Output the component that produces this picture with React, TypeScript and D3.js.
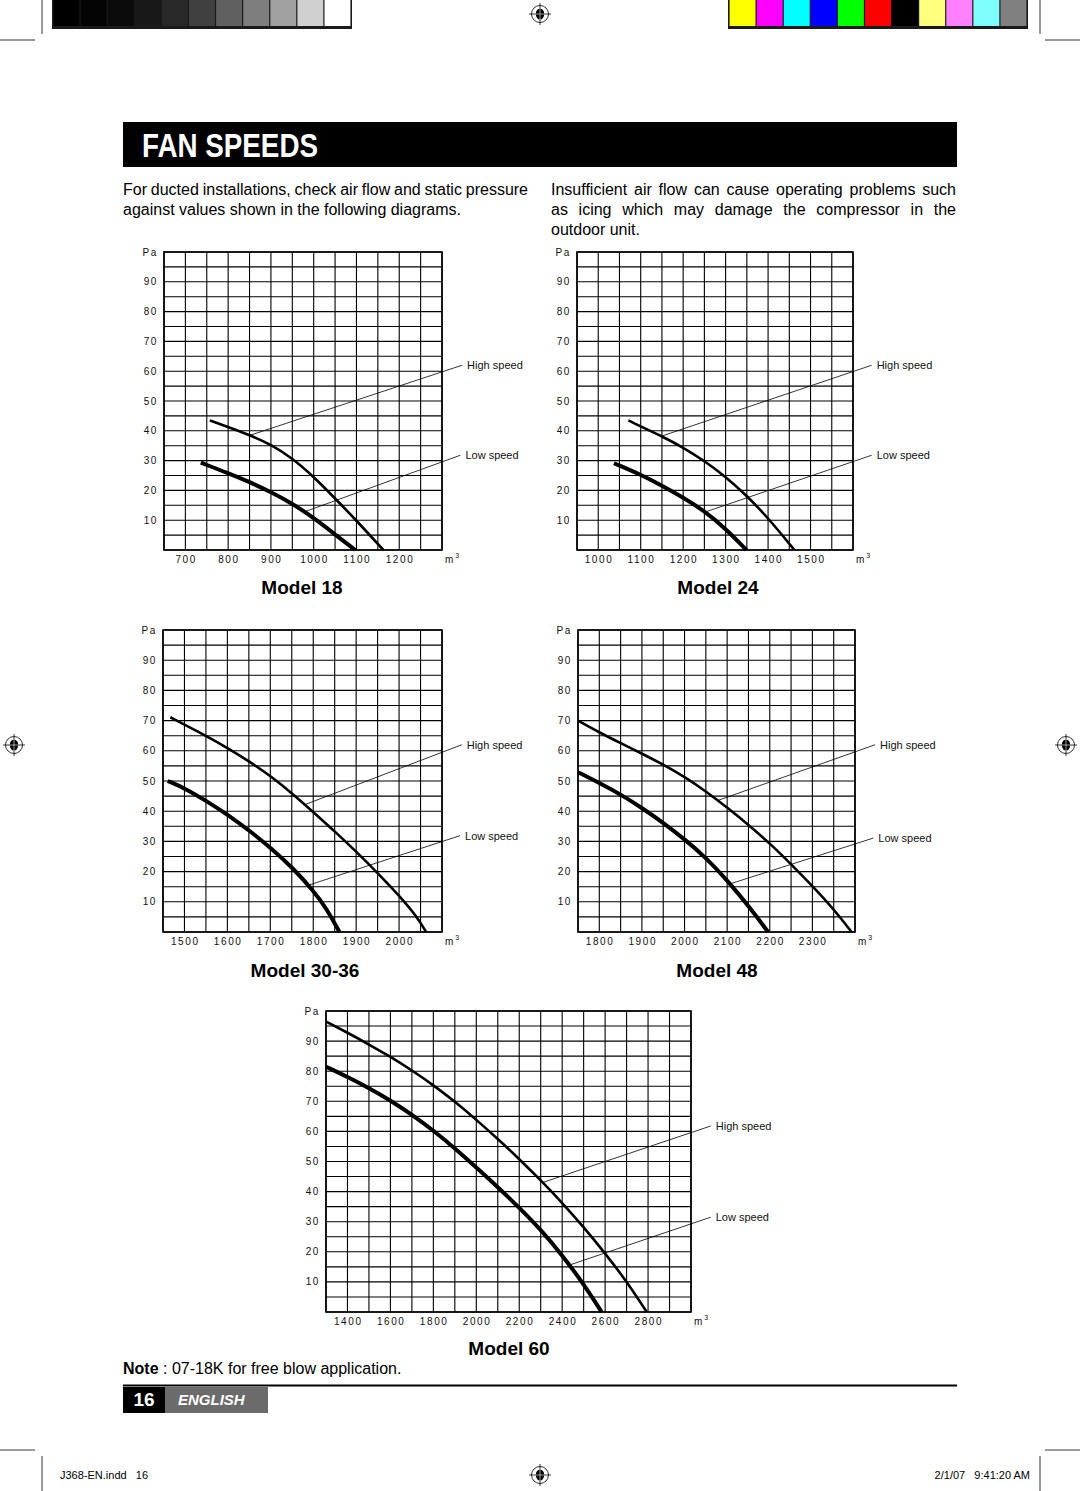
import React, { useLayoutEffect, useRef, useState } from "react";
import * as d3 from "d3";

// ---------- DATA ----------
const yTicks = [10, 20, 30, 40, 50, 60, 70, 80, 90];

const m18Domain = [650, 1300];
const m18Ticks = [700, 800, 900, 1000, 1100, 1200];
const m18High: [number, number][] = [[757, 43.5], [800, 41.3], [850, 38.6], [900, 35.4], [950, 30.8], [1000, 24.6], [1050, 17.3], [1100, 9.9], [1163, 0]];
const m18Low: [number, number][] = [[736, 29.3], [800, 25.8], [850, 22.8], [900, 19.5], [950, 15.6], [1000, 10.8], [1050, 5.2], [1097, 0]];
const m18LeaderHigh: [number, number][] = [[849, 38.4], [1347, 62]];
const m18LeaderLow: [number, number][] = [[980, 12.9], [1343, 31.8]];

const m24Domain = [950, 1600];
const m24Ticks = [1000, 1100, 1200, 1300, 1400, 1500];
const m24High: [number, number][] = [[1071, 43.5], [1100, 41.4], [1150, 38.2], [1200, 34.4], [1250, 29.9], [1300, 24.6], [1350, 18.2], [1400, 10.8], [1462, 0]];
const m24Low: [number, number][] = [[1037, 29.1], [1100, 25.3], [1150, 21.6], [1200, 17.6], [1250, 13.1], [1300, 7.2], [1349, 0]];
const m24LeaderHigh: [number, number][] = [[1149, 38.2], [1644, 62]];
const m24LeaderLow: [number, number][] = [[1253, 12.8], [1644, 31.8]];

const m3036Domain = [1450, 2100];
const m3036Ticks = [1500, 1600, 1700, 1800, 1900, 2000];
const m3036High: [number, number][] = [[1467, 71.1], [1551, 64.9], [1601, 60.9], [1651, 56.5], [1701, 51.6], [1751, 45.9], [1801, 39.6], [1851, 33.2], [1901, 26.5], [1951, 19.4], [2001, 11.9], [2041, 5.2], [2063, 0]];
const m3036Low: [number, number][] = [[1461, 50], [1501, 47.6], [1551, 43.4], [1601, 38.8], [1651, 33.6], [1701, 27.9], [1751, 21.4], [1801, 13.6], [1831, 7.8], [1861, 0]];
const m3036LeaderHigh: [number, number][] = [[1781, 42.2], [2146, 62]];
const m3036LeaderLow: [number, number][] = [[1789, 15.5], [2142, 31.9]];

const m48Domain = [1750, 2400];
const m48Ticks = [1800, 1900, 2000, 2100, 2200, 2300];
const m48High: [number, number][] = [[1750, 70], [1801, 66], [1852, 62.4], [1901, 59], [1952, 55.3], [2002, 51.2], [2051, 46.5], [2102, 41], [2152, 35.3], [2202, 29.1], [2251, 22.3], [2301, 15.1], [2351, 7.4], [2392, 0]];
const m48Low: [number, number][] = [[1750, 52.9], [1801, 49.3], [1852, 45.4], [1901, 41], [1952, 36], [2002, 30.5], [2051, 24.5], [2102, 16.8], [2152, 8.3], [2196, 0]];
const m48LeaderHigh: [number, number][] = [[2079, 43.6], [2447, 62]];
const m48LeaderLow: [number, number][] = [[2106, 15.9], [2443, 31.1]];

const m60Domain = [1300, 3000];
const m60Ticks = [1400, 1600, 1800, 2000, 2200, 2400, 2600, 2800];
const m60High: [number, number][] = [[1300, 96.5], [1400, 92.8], [1500, 88.9], [1600, 84.8], [1700, 80.3], [1800, 75.4], [1900, 69.9], [2000, 63.9], [2100, 57.5], [2200, 50.8], [2300, 43.8], [2400, 36.3], [2500, 28.2], [2600, 19.5], [2700, 10.2], [2794, 0]];
const m60Low: [number, number][] = [[1300, 81.5], [1400, 78.1], [1500, 74.4], [1600, 70.3], [1700, 65.6], [1800, 60.3], [1900, 54.4], [2000, 48], [2100, 41.5], [2200, 34.7], [2300, 27.4], [2400, 18.9], [2500, 9.3], [2584, 0]];
const m60LeaderHigh: [number, number][] = [[2312, 43.1], [3092, 61.8]];
const m60LeaderLow: [number, number][] = [[2434, 15.6], [3092, 31.5]];

const grayBars = ["#000000", "#040404", "#0b0b0b", "#181818", "#282828", "#404040", "#606060", "#7e7e7e", "#a0a0a0", "#d0d0d0", "#ffffff"];
const colorBars = ["#ffff00", "#ff00ff", "#00ffff", "#0000ff", "#00ff00", "#ff0000", "#000000", "#ffff80", "#ff80ff", "#80ffff", "#808080"];

// ---------- LAYOUT ----------
const FONT = '"Liberation Sans", Arial, Helvetica, sans-serif';

const charts = [
  { title: "Model 18", domain: m18Domain, step: 50, ticks: m18Ticks, high: m18High, low: m18Low, lh: m18LeaderHigh, ll: m18LeaderLow, box: [164, 252, 442, 550], tpos: [302, 594] },
  { title: "Model 24", domain: m24Domain, step: 50, ticks: m24Ticks, high: m24High, low: m24Low, lh: m24LeaderHigh, ll: m24LeaderLow, box: [577, 252, 853, 550], tpos: [718, 594] },
  { title: "Model 30-36", domain: m3036Domain, step: 50, ticks: m3036Ticks, high: m3036High, low: m3036Low, lh: m3036LeaderHigh, ll: m3036LeaderLow, box: [163, 630, 442, 932], tpos: [305, 977] },
  { title: "Model 48", domain: m48Domain, step: 50, ticks: m48Ticks, high: m48High, low: m48Low, lh: m48LeaderHigh, ll: m48LeaderLow, box: [578, 630, 855, 932], tpos: [717, 977] },
  { title: "Model 60", domain: m60Domain, step: 100, ticks: m60Ticks, high: m60High, low: m60Low, lh: m60LeaderHigh, ll: m60LeaderLow, box: [326, 1011, 691, 1312], tpos: [509, 1355] },
];

function Chart({ c }: { c: any }) {
  const [l, t, r, b] = c.box;
  const x = d3.scaleLinear().domain(c.domain).range([l, r]);
  const y = d3.scaleLinear().domain([0, 100]).range([b, t]);
  const vlines = d3.range(c.domain[0], c.domain[1] + 0.001, c.step);
  const hlines = d3.range(0, 100.001, 5);
  const line = d3.line<[number, number]>().x((d) => x(d[0])).y((d) => y(d[1])).curve(d3.curveBasis);
  const tickStyle: any = { fontFamily: FONT, fontSize: 10, letterSpacing: "1.6px", fill: "#111" };
  const lblStyle: any = { fontFamily: FONT, fontSize: 11, fill: "#111" };
  const leader = (pts: [number, number][], label: string, key: string) => {
    const [p0, p1] = pts;
    return (
      <g key={key}>
        <line x1={x(p0[0])} y1={y(p0[1])} x2={x(p1[0])} y2={y(p1[1])} stroke="#000" strokeWidth={0.8} />
        <text x={x(p1[0]) + 5} y={y(p1[1]) + 4} style={lblStyle}>{label}</text>
      </g>
    );
  };
  return (
    <g>
      {hlines.map((v) => (
        <line key={"h" + v} x1={l} x2={r} y1={y(v)} y2={y(v)} stroke="#000" strokeWidth={1.1} />
      ))}
      {vlines.map((v) => (
        <line key={"v" + v} x1={x(v)} x2={x(v)} y1={t} y2={b} stroke="#000" strokeWidth={1.1} />
      ))}
      <rect x={l} y={t} width={r - l} height={b - t} fill="none" stroke="#000" strokeWidth={1.6} />
      {yTicks.map((v) => (
        <text key={"yt" + v} x={l - 6} y={y(v) + 3.5} textAnchor="end" style={tickStyle}>{v}</text>
      ))}
      <text x={l - 6} y={t + 3.5} textAnchor="end" style={tickStyle}>Pa</text>
      {c.ticks.map((v: number) => (
        <text key={"xt" + v} x={x(v) + 0.8} y={b + 13} textAnchor="middle" style={tickStyle}>{v}</text>
      ))}
      <text x={r + 3} y={b + 13} style={{ ...tickStyle, letterSpacing: "0px" }}>
        m<tspan dx={2} dy={-5} style={{ fontSize: 7 }}>3</tspan>
      </text>
      <path d={line(c.high) || ""} fill="none" stroke="#000" strokeWidth={2.6} strokeLinecap="butt" />
      <path d={line(c.low) || ""} fill="none" stroke="#000" strokeWidth={4} strokeLinecap="butt" />
      {leader(c.lh, "High speed", "lh")}
      {leader(c.ll, "Low speed", "ll")}
      <text x={c.tpos[0]} y={c.tpos[1]} textAnchor="middle" style={{ fontFamily: FONT, fontSize: 19, fontWeight: "bold", fill: "#000" }}>{c.title}</text>
    </g>
  );
}

function JLine({ x, y, width, text, size }: { x: number; y: number; width: number; text: string; size: number }) {
  const ref = useRef<SVGTextElement>(null);
  const [ws, setWs] = useState(0);
  useLayoutEffect(() => {
    const el = ref.current;
    if (!el) return;
    el.style.wordSpacing = "0px";
    const w = el.getComputedTextLength();
    const spaces = (text.match(/ /g) || []).length;
    const v = spaces ? (width - w) / spaces : 0;
    el.style.wordSpacing = v + "px";
    setWs(v);
  }, [text, width]);
  return (
    <text ref={ref} x={x} y={y} style={{ fontFamily: FONT, fontSize: size, fill: "#000", wordSpacing: ws + "px" }}>{text}</text>
  );
}

function RegMark({ cx, cy }: { cx: number; cy: number }) {
  return (
    <g>
      <circle cx={cx} cy={cy} r={8.5} fill="none" stroke="#000" strokeWidth={0.8} />
      <line x1={cx - 11} x2={cx + 11} y1={cy} y2={cy} stroke="#000" strokeWidth={0.8} />
      <line x1={cx} x2={cx} y1={cy - 11} y2={cy + 11} stroke="#000" strokeWidth={0.8} />
      <ellipse cx={cx} cy={cy} rx={4.2} ry={5.5} fill="#000" />
      <line x1={cx - 4.5} x2={cx + 4.5} y1={cy} y2={cy} stroke="#fff" strokeWidth={0.6} />
      <line x1={cx} x2={cx} y1={cy - 6} y2={cy + 6} stroke="#fff" strokeWidth={0.6} />
    </g>
  );
}

export default function App() {
  const gx = d3.scaleBand<number>().domain(d3.range(grayBars.length)).range([53, 351]);
  const cx = d3.scaleBand<number>().domain(d3.range(colorBars.length)).range([729, 1027]);
  return (
    <svg width={1080} height={1491} style={{ position: "absolute", left: 0, top: 0, background: "#fff" }}>
      <rect x={0} y={0} width={1080} height={1491} fill="#fff" />
      {/* color bars */}
      <rect x={52} y={0} width={300} height={29} fill="#1a1a1a" />
      {grayBars.map((c, i) => (
        <rect key={"g" + i} x={(gx(i) || 0) + 0.6} y={0} width={gx.bandwidth() - 1.2} height={26} fill={c} />
      ))}
      <rect x={728} y={0} width={300} height={29} fill="#1a1a1a" />
      {colorBars.map((c, i) => (
        <rect key={"c" + i} x={(cx(i) || 0) + 0.6} y={0} width={cx.bandwidth() - 1.2} height={26} fill={c} />
      ))}
      {/* crop marks */}
      <g stroke="#000" strokeWidth={0.8}>
        <line x1={42} x2={42} y1={0} y2={34} />
        <line x1={0} x2={35} y1={40} y2={40} />
        <line x1={1040} x2={1040} y1={0} y2={34} />
        <line x1={1045} x2={1080} y1={40} y2={40} />
        <line x1={0} x2={35} y1={1450} y2={1450} />
        <line x1={42} x2={42} y1={1456} y2={1491} />
        <line x1={1045} x2={1080} y1={1450} y2={1450} />
        <line x1={1040} x2={1040} y1={1456} y2={1491} />
      </g>
      <RegMark cx={540} cy={14} />
      <RegMark cx={14} cy={745} />
      <RegMark cx={1066} cy={745} />
      <RegMark cx={540} cy={1475} />

      {/* title bar */}
      <rect x={123} y={122} width={834} height={45} fill="#000" />
      <text x={142} y={157} textLength={176} lengthAdjust="spacingAndGlyphs" style={{ fontFamily: '"Liberation Sans Narrow", "Liberation Sans", Arial, sans-serif', fontSize: 33, fontWeight: "bold", fill: "#fff" }}>FAN SPEEDS</text>

      {/* paragraphs */}
      <JLine x={123} y={195} width={405} size={16} text="For ducted installations, check air flow and static pressure" />
      <text x={123} y={215} style={{ fontFamily: FONT, fontSize: 16, fill: "#000" }}>against values shown in the following diagrams.</text>
      <JLine x={551} y={195} width={405} size={16} text="Insufficient air flow can cause operating problems such" />
      <JLine x={551} y={215} width={405} size={16} text="as icing which may damage the compressor in the" />
      <text x={551} y={235} style={{ fontFamily: FONT, fontSize: 16, fill: "#000" }}>outdoor unit.</text>

      {charts.map((c) => (
        <Chart key={c.title} c={c} />
      ))}

      {/* note */}
      <text x={123} y={1374} style={{ fontFamily: FONT, fontSize: 16, fill: "#000" }}>
        <tspan fontWeight="bold">Note</tspan> : 07-18K for free blow application.
      </text>

      {/* footer */}
      <line x1={123} x2={957} y1={1385.5} y2={1385.5} stroke="#000" strokeWidth={2} />
      <rect x={123} y={1387} width={42} height={26} fill="#000" />
      <rect x={165} y={1387} width={103} height={26} fill="#6b6b6b" />
      <text x={144} y={1406} textAnchor="middle" style={{ fontFamily: FONT, fontSize: 19, fontWeight: "bold", fill: "#fff" }}>16</text>
      <text x={178} y={1405} style={{ fontFamily: FONT, fontSize: 15, fontWeight: "bold", fontStyle: "italic", fill: "#fff" }}>ENGLISH</text>

      <text x={60} y={1479} style={{ fontFamily: FONT, fontSize: 11, fill: "#000", whiteSpace: "pre" }}>J368-EN.indd   16</text>
      <text x={1030} y={1479} textAnchor="end" style={{ fontFamily: FONT, fontSize: 11, fill: "#000", whiteSpace: "pre" }}>2/1/07   9:41:20 AM</text>
    </svg>
  );
}
